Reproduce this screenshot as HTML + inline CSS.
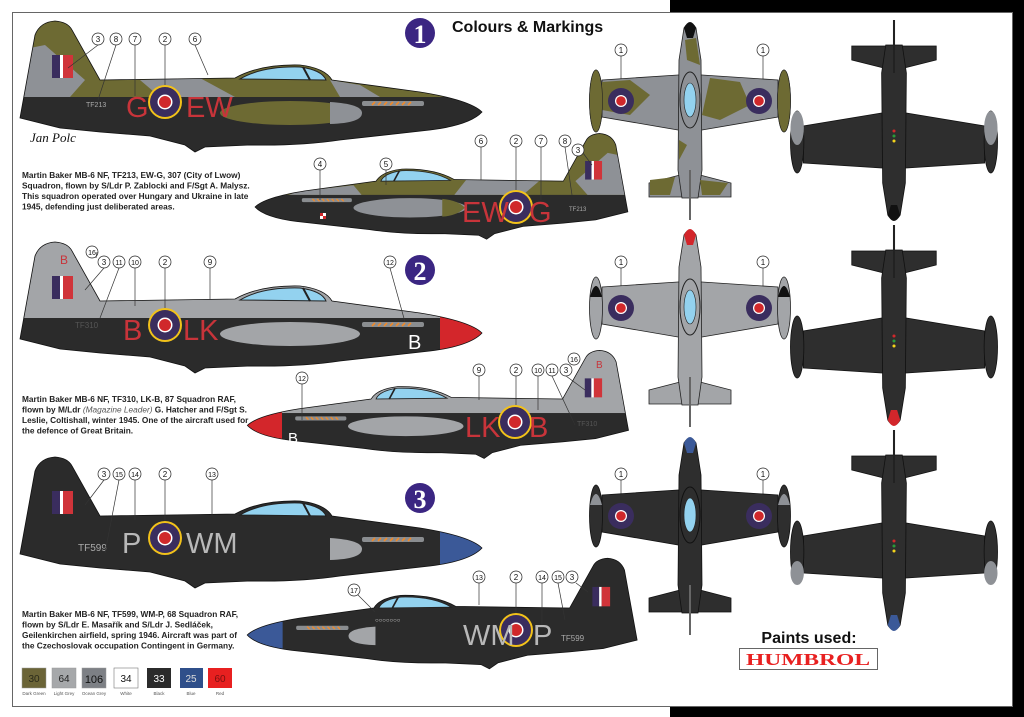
<!DOCTYPE html>
<html><head><meta charset="utf-8"><style>
html,body{margin:0;padding:0;background:#fff;}
svg{display:block;}
.d{font-family:"Liberation Sans",sans-serif;font-weight:bold;font-size:8.3px;fill:#222;}
.c{font-family:"Liberation Sans",sans-serif;font-size:8px;fill:#111;}
.l{font-family:"Liberation Sans",sans-serif;font-size:29px;}
</style></head><body>
<svg width="1024" height="717" viewBox="0 0 1024 717" xmlns="http://www.w3.org/2000/svg">
<defs>
<path id="P" d="M20,118 L35,35 Q40,22 55,21 Q68,22 72,30 L100,80 L235,78 Q260,64 300,65 Q325,68 332,80 L420,92 Q470,100 482,112 Q470,125 430,130 L340,140 Q300,146 250,145 L205,147 L195,152 L185,145 L150,136 L100,132 L60,128 Z"/>
<clipPath id="cb"><use href="#P"/></clipPath>
<g id="can"><path d="M240,79 Q262,66 300,67 Q322,70 326,80 Z" fill="#93d2ef" stroke="#222" stroke-width="1"/><line x1="303" y1="67" x2="310" y2="80" stroke="#222" stroke-width="2"/></g>
<g id="ex"><rect x="362" y="101" width="62" height="5" rx="2" fill="#8a8d90"/><path d="M372,105 l3,-3 M378,105 l3,-3 M384,105 l3,-3 M390,105 l3,-3 M396,105 l3,-3 M402,105 l3,-3 M408,105 l3,-3" stroke="#f08a2a" stroke-width="1.6"/></g>
<g id="flag"><rect x="52" y="55" width="8" height="23" fill="#3a2d5e"/><rect x="60" y="55" width="3" height="23" fill="#fff"/><rect x="63" y="55" width="10" height="23" fill="#d0343a"/></g>
<g id="ro"><circle r="17" fill="#f2c21a"/><circle r="15" fill="#3a2d5e"/><circle r="7.5" fill="#fff"/><circle r="6" fill="#d0282b"/></g>
<g id="rs"><circle r="13" fill="#3a2d5e"/><circle r="6" fill="#fff"/><circle r="4.8" fill="#d0282b"/></g>
<g id="TV">
<path d="M-88,60 L-12,55 L12,55 L88,60 L88,97 L12,110 L-12,110 L-88,97 Z"/>
<path d="M-41,163 L-10,155 L10,155 L41,163 L41,177 L-41,177 Z"/>
<path d="M-6,8 Q0,-2 6,8 L11,40 L12,150 L8,178 L-8,178 L-12,150 L-11,40 Z"/>
<ellipse cx="-94" cy="81" rx="6.5" ry="31"/><ellipse cx="94" cy="81" rx="6.5" ry="31"/>
</g>
</defs>

<rect x="12.5" y="12.5" width="1000" height="694" fill="#fff" stroke="#666" stroke-width="1"/>
<rect x="670" y="0" width="354" height="12" fill="#000"/>
<rect x="1013" y="0" width="11" height="717" fill="#000"/>
<rect x="670" y="707" width="354" height="10" fill="#000"/>

<circle cx="420" cy="33" r="15" fill="#3b2682"/>
<text x="420" y="43" text-anchor="middle" font-family="Liberation Serif,serif" font-weight="bold" font-size="26" fill="#fff">1</text>
<text x="452" y="32" font-family="Liberation Sans,sans-serif" font-weight="bold" font-size="16" fill="#111">Colours &amp; Markings</text>
<circle cx="420" cy="270" r="15" fill="#3b2682"/>
<text x="420" y="280" text-anchor="middle" font-family="Liberation Serif,serif" font-weight="bold" font-size="26" fill="#fff">2</text>
<circle cx="420" cy="498" r="15" fill="#3b2682"/>
<text x="420" y="508" text-anchor="middle" font-family="Liberation Serif,serif" font-weight="bold" font-size="26" fill="#fff">3</text>

<!-- Plane 1 -->
<g>
<use href="#P" fill="#2b2b2b"/>
<g clip-path="url(#cb)">
<rect x="0" y="0" width="500" height="97" fill="#6d6a33"/>
<path d="M20,50 L45,45 L85,80 L70,97 L20,97 Z" fill="#8e9196"/>
<path d="M140,80 L200,78 L235,97 L160,97 Z" fill="#8e9196"/>
<path d="M330,80 L360,85 L380,97 L340,97 Z" fill="#8e9196"/>
<rect x="440" y="97" width="60" height="40" fill="#2b2b2b"/>
<ellipse cx="290" cy="113" rx="70" ry="12" fill="#6d6a33"/>
<path d="M330,102 Q362,104 362,113 Q362,123 330,124 Z" fill="#8e9196"/>
</g>
<use href="#can"/><use href="#ex"/><use href="#flag"/>
<use href="#P" fill="none" stroke="#111" stroke-width="0.8"/>
</g>
<use href="#ro" x="165" y="102"/>
<text x="126" y="117" class="l" fill="#c8343a">G</text>
<text x="186" y="117" class="l" fill="#c8343a">EW</text>
<text x="86" y="107" font-family="Liberation Sans,sans-serif" font-size="7" fill="#aaa">TF213</text>
<text x="30" y="142" font-family="Liberation Serif,serif" font-style="italic" font-size="13" fill="#111">Jan Polc</text>

<!-- Plane 1b -->
<g transform="translate(644,116.6) scale(-0.807,0.807)">
<use href="#P" fill="#2b2b2b"/>
<g clip-path="url(#cb)">
<rect x="0" y="0" width="500" height="97" fill="#6d6a33"/>
<path d="M20,50 L45,45 L85,80 L70,97 L20,97 Z" fill="#8e9196"/>
<path d="M130,80 L220,78 L235,97 L150,97 Z" fill="#8e9196"/>
<path d="M360,85 L430,93 L440,97 L350,97 Z" fill="#8e9196"/>
<ellipse cx="290" cy="113" rx="70" ry="12" fill="#8e9196"/>
<path d="M250,102 Q230,104 222,113 Q232,123 250,124 Z" fill="#6d6a33"/>
</g>
<use href="#can"/><use href="#ex"/>
<g transform="translate(125,0) scale(-1,1)"><use href="#flag"/></g>
<use href="#P" fill="none" stroke="#111" stroke-width="0.9"/>
</g>
<use href="#ro" x="516" y="207"/>
<text x="462" y="222" class="l" fill="#c8343a">EW</text>
<text x="529" y="222" class="l" fill="#c8343a">G</text>
<text x="569" y="211" font-family="Liberation Sans,sans-serif" font-size="6" fill="#aaa">TF213</text>
<rect x="320" y="213" width="6" height="6" fill="#fff"/><rect x="320" y="213" width="3" height="3" fill="#d0282b"/><rect x="323" y="216" width="3" height="3" fill="#d0282b"/>

<!-- Plane 2 -->
<g transform="translate(0,221)">
<use href="#P" fill="#2b2b2b"/>
<g clip-path="url(#cb)">
<rect x="0" y="0" width="500" height="97" fill="#a3a5a8"/>
<ellipse cx="290" cy="113" rx="70" ry="12" fill="#a3a5a8"/>
<rect x="440" y="0" width="60" height="140" fill="#d3262b"/>
</g>
<use href="#can"/><use href="#ex"/><use href="#flag"/>
<use href="#P" fill="none" stroke="#111" stroke-width="0.8"/>
</g>
<text x="60" y="264" font-family="Liberation Sans,sans-serif" font-size="12" fill="#c8343a">B</text>
<use href="#ro" x="165" y="325"/>
<text x="123" y="340" class="l" fill="#c8343a">B</text>
<text x="183" y="340" class="l" fill="#c8343a">LK</text>
<text x="408" y="349" font-family="Liberation Sans,sans-serif" font-size="20" fill="#fff">B</text>
<text x="75" y="328" font-family="Liberation Sans,sans-serif" font-size="8" fill="#555">TF310</text>

<!-- Plane 2b -->
<g transform="translate(645,333) scale(-0.825,0.825)">
<use href="#P" fill="#2b2b2b"/>
<g clip-path="url(#cb)">
<rect x="0" y="0" width="500" height="97" fill="#a3a5a8"/>
<ellipse cx="290" cy="113" rx="70" ry="12" fill="#a3a5a8"/>
<rect x="440" y="0" width="60" height="140" fill="#d3262b"/>
</g>
<use href="#can"/><use href="#ex"/>
<g transform="translate(125,0) scale(-1,1)"><use href="#flag"/></g>
<use href="#P" fill="none" stroke="#111" stroke-width="0.9"/>
</g>
<use href="#ro" x="515" y="422"/>
<text x="465" y="437" class="l" fill="#c8343a">LK</text>
<text x="529" y="437" class="l" fill="#c8343a">B</text>
<text x="288" y="443" font-family="Liberation Sans,sans-serif" font-size="15" fill="#fff">B</text>
<text x="596" y="368" font-family="Liberation Sans,sans-serif" font-size="10" fill="#c8343a">B</text>
<text x="577" y="426" font-family="Liberation Sans,sans-serif" font-size="7" fill="#555">TF310</text>

<!-- Plane 3 -->
<g transform="translate(0,436)">
<use href="#P" fill="#2b2b2b"/>
<g clip-path="url(#cb)">
<path d="M330,102 Q362,104 362,113 Q362,123 330,124 Z" fill="#a3a5a8"/>
<rect x="440" y="0" width="60" height="140" fill="#3b5998"/>
</g>
<use href="#can"/><use href="#ex"/><use href="#flag"/>
<use href="#P" fill="none" stroke="#111" stroke-width="0.8"/>
</g>
<use href="#ro" x="165" y="538"/>
<text x="122" y="553" class="l" fill="#b8b8b8">P</text>
<text x="186" y="553" class="l" fill="#b8b8b8">WM</text>
<text x="78" y="551" font-family="Liberation Sans,sans-serif" font-size="10" fill="#aaa">TF599</text>

<!-- Plane 3b -->
<g transform="translate(654,540.5) scale(-0.844,0.844)">
<use href="#P" fill="#2b2b2b"/>
<g clip-path="url(#cb)">
<path d="M330,102 Q362,104 362,113 Q362,123 330,124 Z" fill="#a3a5a8"/>
<rect x="440" y="0" width="60" height="140" fill="#3b5998"/>
</g>
<use href="#can"/><use href="#ex"/>
<g transform="translate(125,0) scale(-1,1)"><use href="#flag"/></g>
<use href="#P" fill="none" stroke="#111" stroke-width="0.9"/>
</g>
<use href="#ro" x="516" y="630"/>
<text x="463" y="645" class="l" fill="#b8b8b8">WM</text>
<text x="533" y="645" class="l" fill="#b8b8b8">P</text>
<text x="561" y="641" font-family="Liberation Sans,sans-serif" font-size="8" fill="#aaa">TF599</text>
<text x="375" y="622" font-family="Liberation Sans,sans-serif" font-size="6" fill="#ddd">○○○○○○○</text>

<!-- callouts -->
<g fill="#fff" stroke="#222" stroke-width="0.7">
<circle cx="98" cy="39" r="6"/><circle cx="116" cy="39" r="6"/><circle cx="135" cy="39" r="6"/><circle cx="165" cy="39" r="6"/><circle cx="195" cy="39" r="6"/>
<circle cx="320" cy="164" r="6"/><circle cx="386" cy="164" r="6"/><circle cx="481" cy="141" r="6"/><circle cx="516" cy="141" r="6"/><circle cx="541" cy="141" r="6"/><circle cx="565" cy="141" r="6"/><circle cx="578" cy="150" r="6"/>
<circle cx="92" cy="252" r="6"/><circle cx="104" cy="262" r="6"/><circle cx="119" cy="262" r="6"/><circle cx="135" cy="262" r="6"/><circle cx="165" cy="262" r="6"/><circle cx="210" cy="262" r="6"/><circle cx="390" cy="262" r="6"/>
<circle cx="302" cy="378" r="6"/><circle cx="479" cy="370" r="6"/><circle cx="516" cy="370" r="6"/><circle cx="538" cy="370" r="6"/><circle cx="552" cy="370" r="6"/><circle cx="566" cy="370" r="6"/><circle cx="574" cy="359" r="6"/>
<circle cx="104" cy="474" r="6"/><circle cx="119" cy="474" r="6"/><circle cx="135" cy="474" r="6"/><circle cx="165" cy="474" r="6"/><circle cx="212" cy="474" r="6"/>
<circle cx="354" cy="590" r="6"/><circle cx="479" cy="577" r="6"/><circle cx="516" cy="577" r="6"/><circle cx="542" cy="577" r="6"/><circle cx="558" cy="577" r="6"/><circle cx="572" cy="577" r="6"/>
<circle cx="621" cy="50" r="6"/><circle cx="763" cy="50" r="6"/><circle cx="621" cy="262" r="6"/><circle cx="763" cy="262" r="6"/><circle cx="621" cy="474" r="6"/><circle cx="763" cy="474" r="6"/>
</g>
<g class="c" text-anchor="middle">
<text x="98" y="42">3</text><text x="116" y="42">8</text><text x="135" y="42">7</text><text x="165" y="42">2</text><text x="195" y="42">6</text>
<text x="320" y="167">4</text><text x="386" y="167">5</text><text x="481" y="144">6</text><text x="516" y="144">2</text><text x="541" y="144">7</text><text x="565" y="144">8</text><text x="578" y="153">3</text>
<text x="92" y="255" font-size="7">16</text><text x="104" y="265">3</text><text x="119" y="265" font-size="7">11</text><text x="135" y="265" font-size="7">10</text><text x="165" y="265">2</text><text x="210" y="265">9</text><text x="390" y="265" font-size="7">12</text>
<text x="302" y="381" font-size="7">12</text><text x="479" y="373">9</text><text x="516" y="373">2</text><text x="538" y="373" font-size="7">10</text><text x="552" y="373" font-size="7">11</text><text x="566" y="373">3</text><text x="574" y="362" font-size="7">16</text>
<text x="104" y="477">3</text><text x="119" y="477" font-size="7">15</text><text x="135" y="477" font-size="7">14</text><text x="165" y="477">2</text><text x="212" y="477" font-size="7">13</text>
<text x="354" y="593" font-size="7">17</text><text x="479" y="580" font-size="7">13</text><text x="516" y="580">2</text><text x="542" y="580" font-size="7">14</text><text x="558" y="580" font-size="7">15</text><text x="572" y="580">3</text>
<text x="621" y="53">1</text><text x="763" y="53">1</text><text x="621" y="265">1</text><text x="763" y="265">1</text><text x="621" y="477">1</text><text x="763" y="477">1</text>
</g>
<g stroke="#333" stroke-width="0.7" fill="none">
<path d="M98,45 L68,68 M116,45 L98,100 M135,45 L135,96 M165,45 L165,85 M195,45 L208,75"/>
<path d="M320,170 L320,200 M386,170 L386,185 M481,147 L481,180 M516,147 L516,190 M541,147 L541,200 M565,147 L572,195 M583,153 L592,165"/>
<path d="M97,252 L96,258 M104,268 L85,290 M119,268 L100,318 M135,268 L135,306 M165,268 L165,308 M210,268 L210,300 M390,268 L405,322"/>
<path d="M302,384 L302,420 M479,376 L479,400 M516,376 L516,405 M538,376 L538,410 M552,376 L575,425 M566,376 L585,390"/>
<path d="M104,480 L85,505 M119,480 L105,553 M135,480 L135,520 M165,480 L165,521 M212,480 L212,515"/>
<path d="M358,595 L375,612 M479,583 L479,605 M516,583 L516,613 M542,583 L542,625 M558,583 L565,620 M576,583 L588,592"/>
<path d="M621,56 L621,88 M763,56 L763,88 M621,268 L621,295 M763,268 L763,295 M621,480 L621,503 M763,480 L763,503"/>
</g>

<!-- top views -->
<g transform="translate(690,20)">
<use href="#TV" fill="#8e9196" stroke="#222" stroke-width="0.8"/>
<path d="M-88,62 L-60,60 L-40,75 L-60,95 L-88,90 Z M20,58 L50,62 L60,85 L30,100 L12,95 Z M-11,120 L-3,125 L-11,140 Z M-40,160 L-15,157 L-20,175 L-40,175 Z M10,160 L38,163 L30,175 L12,175 Z M-5,20 L6,18 L10,45 L-3,40 Z" fill="#6d6a33"/>
<path d="M-6,8 Q0,-4 6,8 L3,18 L-3,18 Z" fill="#111"/>
<ellipse cx="-94" cy="81" rx="6.5" ry="31" fill="#6d6a33" stroke="#222" stroke-width="0.6"/><ellipse cx="94" cy="81" rx="6.5" ry="31" fill="#6d6a33" stroke="#222" stroke-width="0.6"/>
<ellipse cx="0" cy="80" rx="10" ry="28" fill="none" stroke="#222"/><ellipse cx="0" cy="80" rx="6" ry="17" fill="#93d2ef" stroke="#222" stroke-width="0.6"/>
<use href="#rs" x="-69" y="81"/><use href="#rs" x="69" y="81"/>
<line x1="0" y1="150" x2="0" y2="200" stroke="#666" stroke-width="2"/>
</g>
<g transform="translate(894,223) scale(1.03,-1)">
<use href="#TV" fill="#2e2e2e" stroke="#111" stroke-width="0.8"/>
<path d="M-6,8 Q0,-4 6,8 L3,18 L-3,18 Z" fill="#111"/>
<ellipse cx="-94" cy="95" rx="6.5" ry="17" fill="#8e9196"/><ellipse cx="94" cy="95" rx="6.5" ry="17" fill="#8e9196"/>
<line x1="0" y1="150" x2="0" y2="203" stroke="#222" stroke-width="2"/>
<circle cx="0" cy="82" r="1.5" fill="#f2d21a"/><circle cx="0" cy="87" r="1.5" fill="#2a9a3a"/><circle cx="0" cy="92" r="1.5" fill="#d0282b"/>
</g>

<g transform="translate(690,227)">
<use href="#TV" fill="#a3a5a8" stroke="#222" stroke-width="0.8"/>
<path d="M-6,8 Q0,-4 6,8 L3,18 L-3,18 Z" fill="#d3262b"/>
<path d="M-100,70 Q-94,48 -88,70 Z M88,70 Q94,48 100,70 Z" fill="#111"/>
<ellipse cx="0" cy="80" rx="10" ry="28" fill="none" stroke="#222"/><ellipse cx="0" cy="80" rx="6" ry="17" fill="#93d2ef" stroke="#222" stroke-width="0.6"/>
<use href="#rs" x="-69" y="81"/><use href="#rs" x="69" y="81"/>
<line x1="0" y1="150" x2="0" y2="200" stroke="#666" stroke-width="2"/>
</g>
<g transform="translate(894,428) scale(1.03,-1)">
<use href="#TV" fill="#2e2e2e" stroke="#111" stroke-width="0.8"/>
<path d="M-6,8 Q0,-4 6,8 L3,18 L-3,18 Z" fill="#d3262b"/>
<line x1="0" y1="150" x2="0" y2="203" stroke="#222" stroke-width="2"/>
<circle cx="0" cy="82" r="1.5" fill="#f2d21a"/><circle cx="0" cy="87" r="1.5" fill="#2a9a3a"/><circle cx="0" cy="92" r="1.5" fill="#d0282b"/>
</g>

<g transform="translate(690,435)">
<use href="#TV" fill="#2e2e2e" stroke="#111" stroke-width="0.8"/>
<path d="M-6,8 Q0,-4 6,8 L3,18 L-3,18 Z" fill="#3b5998"/>
<path d="M-100,70 Q-94,48 -88,70 Z M88,70 Q94,48 100,70 Z" fill="#8e9196"/>
<ellipse cx="0" cy="80" rx="10" ry="28" fill="none" stroke="#111"/><ellipse cx="0" cy="80" rx="6" ry="17" fill="#93d2ef" stroke="#222" stroke-width="0.6"/>
<use href="#rs" x="-69" y="81"/><use href="#rs" x="69" y="81"/>
<line x1="0" y1="150" x2="0" y2="200" stroke="#666" stroke-width="2"/>
</g>
<g transform="translate(894,633) scale(1.03,-1)">
<use href="#TV" fill="#2e2e2e" stroke="#111" stroke-width="0.8"/>
<path d="M-6,8 Q0,-4 6,8 L3,18 L-3,18 Z" fill="#3b5998"/>
<ellipse cx="-94" cy="60" rx="6.5" ry="12" fill="#8e9196"/><ellipse cx="94" cy="60" rx="6.5" ry="12" fill="#8e9196"/>
<line x1="0" y1="150" x2="0" y2="203" stroke="#222" stroke-width="2"/>
<circle cx="0" cy="82" r="1.5" fill="#f2d21a"/><circle cx="0" cy="87" r="1.5" fill="#2a9a3a"/><circle cx="0" cy="92" r="1.5" fill="#d0282b"/>
</g>

<g class="d">
<text x="22" y="178">Martin Baker MB-6 NF, TF213, EW-G, 307 (City of Lwow)</text>
<text x="22" y="188.5">Squadron, flown by S/Ldr P. Zablocki and F/Sgt A. Malysz.</text>
<text x="22" y="199">This squadron operated over Hungary and Ukraine in late</text>
<text x="22" y="209.5">1945, defending just deliberated areas.</text>
<text x="22" y="402">Martin Baker MB-6 NF, TF310, LK-B, 87 Squadron RAF,</text>
<text x="22" y="412.5">flown by M/Ldr <tspan font-weight="normal" font-style="italic" fill="#555">(Magazine Leader)</tspan> G. Hatcher and F/Sgt S.</text>
<text x="22" y="423">Leslie, Coltishall, winter 1945. One of the aircraft used for</text>
<text x="22" y="433.5">the defence of Great Britain.</text>
<text x="22" y="617">Martin Baker MB-6 NF, TF599, WM-P, 68 Squadron RAF,</text>
<text x="22" y="627.5">flown by S/Ldr E. Masařík and S/Ldr J. Sedláček,</text>
<text x="22" y="638">Geilenkirchen airfield, spring 1946. Aircraft was part of</text>
<text x="22" y="648.5">the Czechoslovak occupation Contingent in Germany.</text>
</g>

<g font-family="Liberation Sans,sans-serif" text-anchor="middle">
<rect x="22" y="668" width="24" height="20" fill="#6b6437" stroke="#999" stroke-width="0.5"/><text x="34" y="682" font-size="10" fill="#2a2a1a">30</text><text x="34" y="695" font-size="4.5" fill="#555">Dark Green</text>
<rect x="52" y="668" width="24" height="20" fill="#a6a8aa" stroke="#999" stroke-width="0.5"/><text x="64" y="682" font-size="10" fill="#222">64</text><text x="64" y="695" font-size="4.5" fill="#555">Light Grey</text>
<rect x="82" y="668" width="24" height="20" fill="#7d8085" stroke="#999" stroke-width="0.5"/><text x="94" y="683" font-size="11" fill="#111">106</text><text x="94" y="695" font-size="4.5" fill="#555">Ocean Grey</text>
<rect x="114" y="668" width="24" height="20" fill="#fff" stroke="#777" stroke-width="0.6"/><text x="126" y="682" font-size="10" fill="#111">34</text><text x="126" y="695" font-size="4.5" fill="#555">White</text>
<rect x="147" y="668" width="24" height="20" fill="#2b2b2b"/><text x="159" y="682" font-size="10" fill="#fff">33</text><text x="159" y="695" font-size="4.5" fill="#555">Black</text>
<rect x="180" y="668" width="23" height="20" fill="#2f4f8a"/><text x="191" y="682" font-size="10" fill="#ddd">25</text><text x="191" y="695" font-size="4.5" fill="#555">Blue</text>
<rect x="208" y="668" width="24" height="20" fill="#e82020"/><text x="220" y="682" font-size="10" fill="#7a1010">60</text><text x="220" y="695" font-size="4.5" fill="#555">Red</text>
</g>

<text x="809" y="643" text-anchor="middle" font-family="Liberation Sans,sans-serif" font-weight="bold" font-size="16" fill="#111">Paints used:</text>
<rect x="739.5" y="648.5" width="138" height="21" fill="#fff" stroke="#666" stroke-width="1"/>
<text x="808" y="665" text-anchor="middle" font-family="Liberation Serif,serif" font-weight="bold" font-size="17" fill="#e82020" textLength="124" lengthAdjust="spacingAndGlyphs">HUMBROL</text>
</svg>
</body></html>
